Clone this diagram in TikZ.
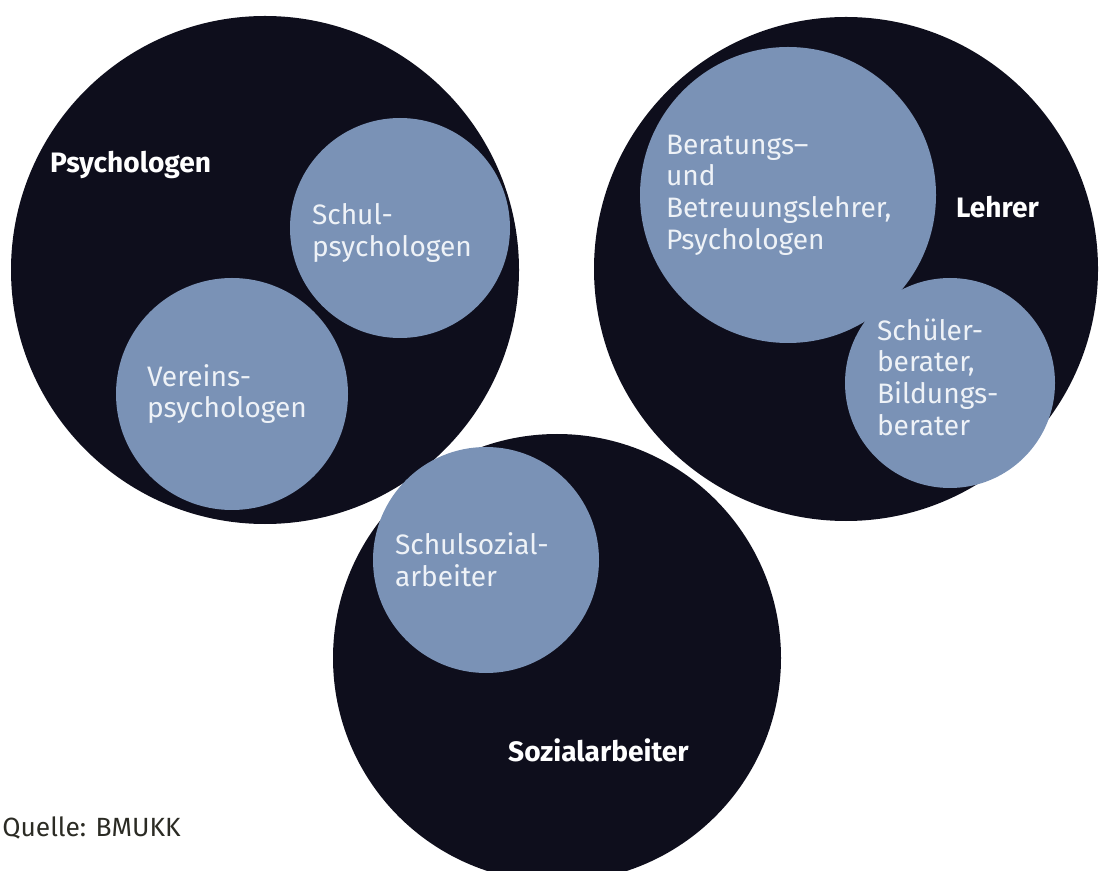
\documentclass[tikz,border=0pt]{standalone}
\usepackage{fontspec}
\setmainfont{Fira Sans}
\usetikzlibrary{positioning}

\definecolor{nacht}{HTML}{0E0E1C}
\definecolor{stahl}{HTML}{7A92B6}
\definecolor{hell}{HTML}{EEF2F7}
\definecolor{quelle}{HTML}{2B2B24}

\begin{document}
\begin{tikzpicture}[
  gruppe/.style={circle,fill=nacht,inner sep=0pt,minimum size=#1},
  teil/.style={circle,fill=stahl,inner sep=0pt,minimum size=#1},
  titel/.style={anchor=west,text=white,font=\fontsize{16}{18}\selectfont\bfseries},
  beschr/.style={align=left,text=hell,inner sep=0pt,font=\fontsize{16}{18}\selectfont}
]
\useasboundingbox (0,0) rectangle (22,17.4);

% die drei Berufsgruppen
\node[gruppe=10.16cm] (psy) at (5.30,12.00) {};
\node[gruppe=10.08cm] (leh) at (16.92,12.02) {};
\node[gruppe=8.96cm] (soz) at (11.14,4.24) {};

% Teilgruppen
\node[teil=4.40cm] (schulpsy) at (8.00,12.84) {};
\node[teil=4.64cm] (verein) at (4.64,9.52) {};
\node[teil=5.92cm] (beratung) at (15.76,13.50) {};
\node[teil=4.20cm] (schueler) at (19.00,9.74) {};
\node[teil=4.52cm] (schulsoz) at (9.72,6.20) {};

\node[beschr, right=0.44cm of schulpsy.west, yshift=-0.1cm] (tschulpsy) {Schul-\\psychologen};
\node[beschr, right=0.62cm of verein.west] (tverein) {Vereins-\\psychologen};
\node[beschr, right=0.52cm of beratung.west] (tberatung) {Beratungs–\\und\\Betreuungslehrer,\\Psychologen};
\node[beschr, right=0.64cm of schueler.west, yshift=0.12cm] (tschueler) {Schüler-\\berater,\\Bildungs-\\berater};
\node[beschr, right=0.44cm of schulsoz.west] (tschulsoz) {Schulsozial-\\arbeiter};

\node[titel] (tpsy) at (0.88,14.10) {Psychologen};
\node[titel] (tleh) at (19.00,13.26) {Lehrer};
\node[titel] (tsoz) at (10.04,2.40) {Sozialarbeiter};

\node[anchor=west,inner sep=0pt,text=quelle,font=\fontsize{15}{17}\selectfont] (src) at (0.04,0.84) {Quelle: BMUKK};
\end{tikzpicture}
\end{document}
